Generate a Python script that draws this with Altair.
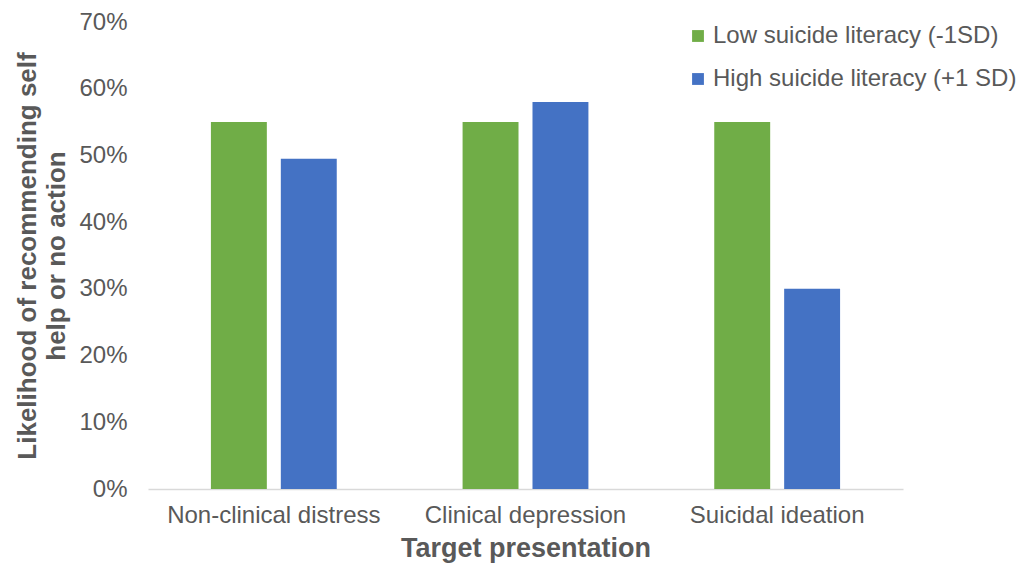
import altair as alt
import pandas as pd

# Likelihood of recommending self help or no action, by target presentation
presentations = ["Non-clinical distress", "Clinical depression", "Suicidal ideation"]
low_literacy = [0.55, 0.55, 0.55]
high_literacy = [0.495, 0.58, 0.30]
series = ["Low suicide literacy (-1SD)", "High suicide literacy (+1 SD)"]
colors = ["#70AD47", "#4472C4"]

rows = []
for i, p in enumerate(presentations):
    rows.append({"presentation": p, "group": series[0], "value": low_literacy[i]})
    rows.append({"presentation": p, "group": series[1], "value": high_literacy[i]})
df = pd.DataFrame(rows)

FONT = "Liberation Sans"
TXT = "#595959"

chart = (
    alt.Chart(df)
    .mark_bar()
    .encode(
        x=alt.X(
            "presentation:N",
            sort=presentations,
            scale=alt.Scale(paddingInner=0.5, paddingOuter=0.25),
            axis=alt.Axis(
                title="Target presentation",
                labelAngle=0,
                labelFontSize=24,
                labelColor=TXT,
                labelFont=FONT,
                labelPadding=14,
                labelLimit=400,
                ticks=False,
                domainColor="#D9D9D9",
                domainWidth=1.5,
                titleFontSize=27,
                titleFont=FONT,
                titleFontWeight="bold",
                titleColor=TXT,
                titlePadding=8,
            ),
        ),
        xOffset=alt.XOffset(
            "group:N", sort=series, scale=alt.Scale(paddingInner=0.2)
        ),
        y=alt.Y(
            "value:Q",
            scale=alt.Scale(domain=[0, 0.7]),
            axis=alt.Axis(
                title=["Likelihood of recommending self", "help or no action"],
                format=".0%",
                values=[0, 0.1, 0.2, 0.3, 0.4, 0.5, 0.6, 0.7],
                grid=False,
                domain=False,
                ticks=False,
                labelFontSize=24,
                labelColor=TXT,
                labelFont=FONT,
                labelPadding=21,
                titleFontSize=26,
                titleFont=FONT,
                titleFontWeight="bold",
                titleColor=TXT,
                titlePadding=9,
                titleLineHeight=29,
            ),
        ),
        color=alt.Color(
            "group:N",
            sort=series,
            scale=alt.Scale(domain=series, range=colors),
            legend=alt.Legend(
                title=None,
                orient="none",
                legendX=538,
                legendY=2,
                symbolType="square",
                symbolSize=140,
                symbolStrokeWidth=0,
                labelFontSize=24,
                labelFont=FONT,
                labelColor=TXT,
                labelOffset=3,
                labelLimit=400,
                rowPadding=19,
            ),
        ),
    )
    .properties(
        width=755,
        height=467,
        background="white",
        autosize=alt.AutoSizeParams(type="none"),
        padding={"left": 148, "top": 22, "right": 114, "bottom": 81},
    )
    .configure_view(stroke=None, strokeWidth=0)
)

chart.save("out.html", embed_options={"renderer": "svg", "actions": False})
